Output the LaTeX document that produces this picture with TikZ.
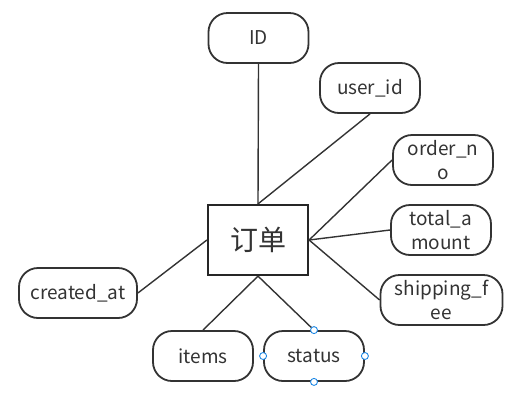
\documentclass[tikz,border=0pt]{standalone}
\usepackage{fontspec}
\setmainfont{Noto Sans CJK SC}
\begin{document}
\begin{tikzpicture}[x=1pt,y=-1pt,
  attr/.style={draw=black!80, line width=1.8pt, rounded corners=19pt, minimum width=100pt, minimum height=50pt, align=center, inner sep=0pt, font=\fontsize{19}{24}\selectfont, text=black!80},
  ent/.style={draw=black!85, line width=2.2pt, minimum width=100pt, minimum height=70pt, inner sep=0pt, font=\fontsize{28}{30}\selectfont, text=black!80},
  conn/.style={draw=black!80, line width=1.4pt},
  handle/.style={circle, draw={rgb,255:red,30;green,136;blue,229}, fill=white, line width=0.9pt, minimum size=7pt, inner sep=0pt}]
\useasboundingbox (0,0) rectangle (525,400);
\node[ent] (o) at (258,240) {订单};
\node[attr] (id) at (258.5,38) {ID};
\node[attr] (uid) at (370,88) {user\_id};
\node[attr] (ono) at (443,160) {order\_n\\o};
\node[attr] (tam) at (441,230) {total\_a\\mount};
\node[attr, minimum width=122pt] (sf) at (441.5,300) {shipping\_f\\ee};
\node[attr, minimum width=118pt] (ca) at (78,293) {created\_at};
\node[attr] (it) at (203,356) {items};
\node[attr] (st) at (314,356) {status};
\draw[conn] (id.south) -- (o.north);
\draw[conn] (uid.south) -- (o.north);
\draw[conn] (ono.west) -- (o.east);
\draw[conn] (tam.west) -- (o.east);
\draw[conn] (sf.west) -- (o.east);
\draw[conn] (ca.east) -- (o.west);
\draw[conn] (it.north) -- (o.south);
\draw[conn] (st.north) -- (o.south);
\node[handle] (h1) at (st.north) {};
\node[handle] (h2) at (st.south) {};
\node[handle] (h3) at (st.west) {};
\node[handle] (h4) at (st.east) {};
\end{tikzpicture}
\end{document}
